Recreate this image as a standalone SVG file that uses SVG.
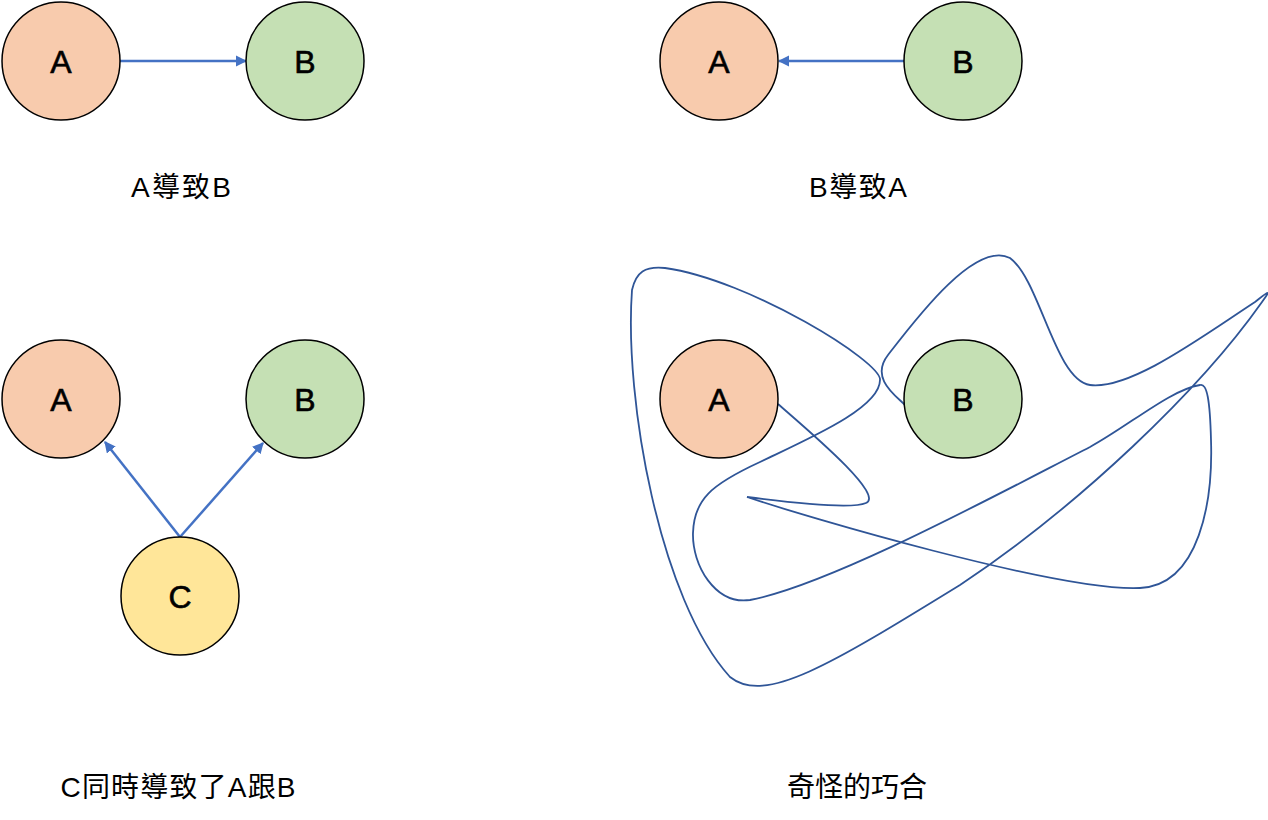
<svg xmlns="http://www.w3.org/2000/svg" width="1268" height="820" viewBox="0 0 1268 820">
<style>
.n{stroke:#000;stroke-width:1.5}
.a{fill:#F8CBAD}.b{fill:#C5E0B4}.c{fill:#FFE699}
.t{font-family:"Liberation Sans","Noto Sans CJK TC",sans-serif;font-size:32px;text-anchor:middle;fill:#000;stroke:#000;stroke-width:0.6}
.l{font-family:"Liberation Sans","Noto Sans CJK TC",sans-serif;font-size:28px;text-anchor:middle;fill:#000}
.e{stroke:#4472C4;stroke-width:2.5;fill:none;marker-end:url(#ah)}
.w{stroke:#2F5597;stroke-width:1.8;fill:none}
</style>
<defs>
<marker id="ah" viewBox="0 0 10 10" refX="9" refY="5" markerWidth="4.5" markerHeight="4.5" markerUnits="strokeWidth" orient="auto">
<path d="M0,0 L10,5 L0,10 z" fill="#4472C4"/>
</marker>
</defs>
<rect width="1268" height="820" fill="#fff"/>
<g id="connectors">
<line class="e" x1="120" y1="61" x2="246" y2="61"/>
<line class="e" x1="904" y1="61" x2="779" y2="61"/>
<line class="e" x1="180" y1="537" x2="105" y2="442"/>
<line class="e" x1="180" y1="537" x2="263" y2="443"/>
<path id="tangle" class="w" d="M778,404 C810,432 885,495 866,503 C850,510 770,500 747,497 C800,515 1060,592 1140,588 C1200,585 1213,500 1211,440 C1210,400 1207,383 1200,385 C1170,390 1130,425 1090,447 C1000,493 830,585 750,600 C715,605 692,565 693,533 C694,500 710,485 760,462 C810,438 880,408 880,380 C882,362 750,280 665,268 C645,266 636,272 632,290 C624,400 660,600 730,677 C765,705 830,665 960,585 C1080,505 1200,390 1262,302 C1272,288 1268,292 1255,302 C1200,338 1130,390 1090,385 C1055,380 1040,280 1010,258 C975,240 915,320 888,355 C870,378 895,395 905,405"/>
</g>
<g id="node-tl-A"><circle class="n a" cx="61" cy="61" r="59"/><text class="t" x="61" y="73">A</text></g>
<g id="node-tl-B"><circle class="n b" cx="305" cy="61" r="59"/><text class="t" x="305" y="73">B</text></g>
<g id="node-tr-A"><circle class="n a" cx="719" cy="61" r="59"/><text class="t" x="719" y="73">A</text></g>
<g id="node-tr-B"><circle class="n b" cx="963" cy="61" r="59"/><text class="t" x="963" y="73">B</text></g>
<g id="node-bl-A"><circle class="n a" cx="61" cy="399" r="59"/><text class="t" x="61" y="411">A</text></g>
<g id="node-bl-B"><circle class="n b" cx="305" cy="399" r="59"/><text class="t" x="305" y="411">B</text></g>
<g id="node-bl-C"><circle class="n c" cx="180" cy="596" r="59"/><text class="t" x="180" y="608">C</text></g>
<g id="node-br-A"><circle class="n a" cx="719" cy="399" r="59"/><text class="t" x="719" y="411">A</text></g>
<g id="node-br-B"><circle class="n b" cx="963" cy="399" r="59"/><text class="t" x="963" y="411">B</text></g>
<g id="labels">
<text class="l" x="181" y="197" textLength="100" lengthAdjust="spacing">A導致B</text>
<text class="l" x="858" y="197" textLength="98" lengthAdjust="spacing">B導致A</text>
<text class="l" x="178" y="797" textLength="235" lengthAdjust="spacing">C同時導致了A跟B</text>
<text class="l" x="857" y="797">奇怪的巧合</text>
</g>
</svg>
